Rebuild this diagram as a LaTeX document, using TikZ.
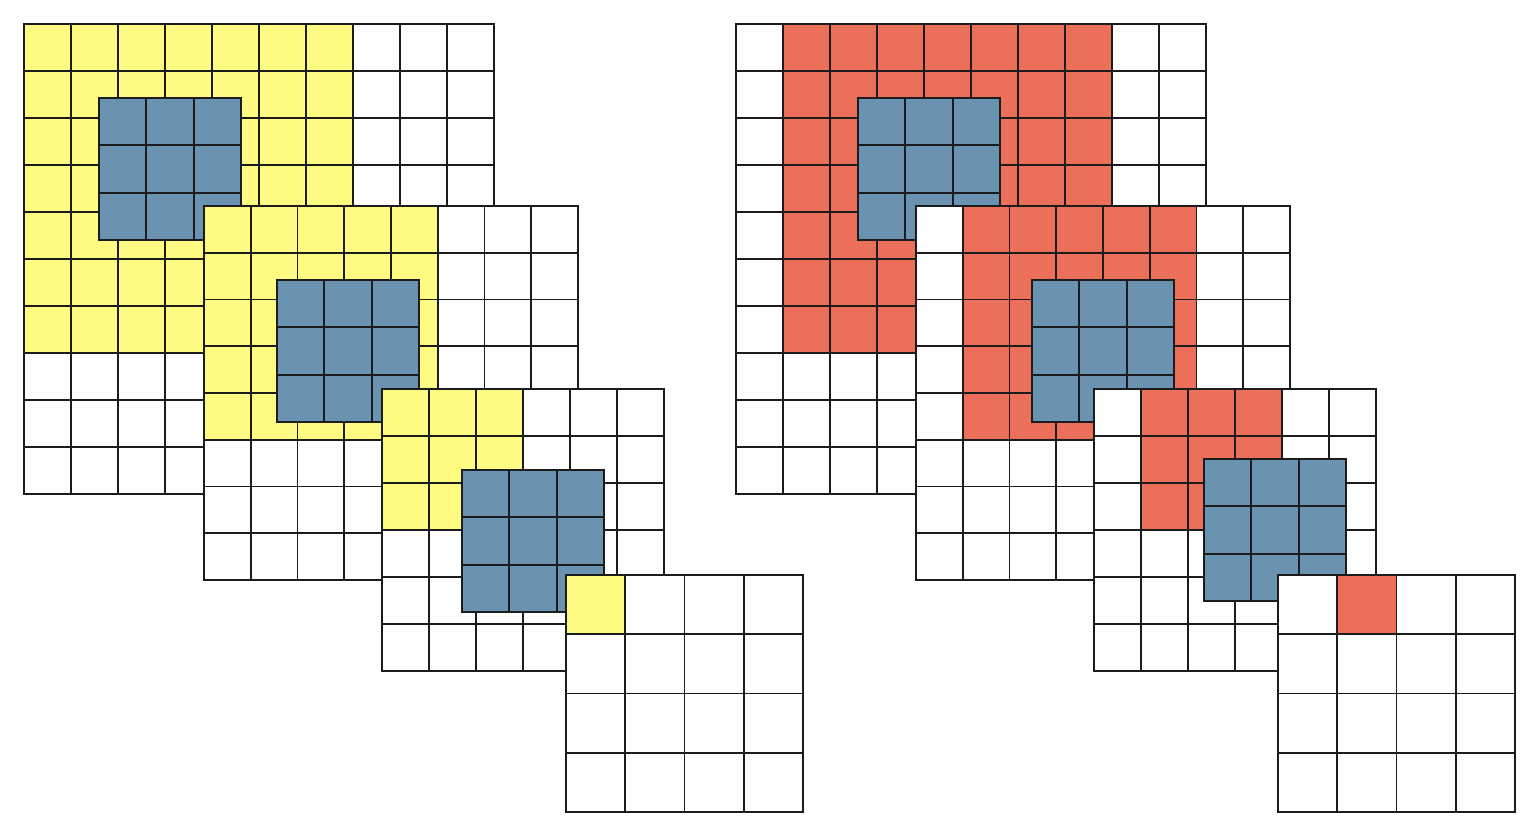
\documentclass[tikz,border=0pt]{standalone}
\usepackage{tikz}
\definecolor{rfyellow}{HTML}{FEFB82}
\definecolor{rfred}{HTML}{EC6F5A}
\definecolor{kernblue}{HTML}{6A93B2}
\definecolor{gridline}{HTML}{1C1C1C}
\tikzset{
  % feature maps
  cellbox/.style={draw=gridline,line width=0.9pt,fill=white},
  rfy/.style={cellbox,fill=rfyellow},
  rfr/.style={cellbox,fill=rfred},
  kern/.style={draw=gridline,line width=0.9pt,fill=kernblue},
}
% #1,#2 corner, #3 last index, #4 cell size
\newcommand{\fmap}[4]{%
  \foreach \i in {0,...,#3}
    \foreach \j in {0,...,#3}
      \draw[cellbox] (#1+#4*\i,#2+#4*\j) rectangle ++(#4,#4);}
% #1,#2 corner, #3 first col, #4 last col, #5 last row, #6 cell size, #7 style
\newcommand{\rfield}[7]{%
  \foreach \i in {#3,...,#4}
    \foreach \j in {0,...,#5}
      \draw[#7] (#1+#6*\i,#2+#6*\j) rectangle ++(#6,#6);}
% #1,#2 corner of the 3x3 kernel
\newcommand{\kernel}[2]{%
  \foreach \i in {0,1,2}
    \foreach \j in {0,1,2}
      \draw[kern] (#1+47.33*\i,#2+47.33*\j) rectangle ++(47.33,47.33);}

\begin{document}
\begin{tikzpicture}[x=0.5pt,y=-0.5pt]
  \useasboundingbox (0,0) rectangle (1538,838);
  % left: yellow receptive field
  \fmap{24}{24}{9}{47}
  \rfield{24}{24}{0}{6}{6}{47}{rfy}
  \kernel{99}{98}
  \fmap{204}{206}{7}{46.75}
  \rfield{204}{206}{0}{4}{4}{46.75}{rfy}
  \kernel{277}{280}
  \fmap{382}{389}{5}{47}
  \rfield{382}{389}{0}{2}{2}{47}{rfy}
  \kernel{462}{470}
  \fmap{566}{575}{3}{59.25}
  \rfield{566}{575}{0}{0}{0}{59.25}{rfy}
  % right: red receptive field
  \fmap{736}{24}{9}{47}
  \rfield{736}{24}{1}{7}{6}{47}{rfr}
  \kernel{858}{98}
  \fmap{916}{206}{7}{46.75}
  \rfield{916}{206}{1}{5}{4}{46.75}{rfr}
  \kernel{1032}{280}
  \fmap{1094}{389}{5}{47}
  \rfield{1094}{389}{1}{3}{2}{47}{rfr}
  \kernel{1204}{459}
  \fmap{1278}{575}{3}{59.25}
  \rfield{1278}{575}{1}{1}{0}{59.25}{rfr}
\end{tikzpicture}
\end{document}
